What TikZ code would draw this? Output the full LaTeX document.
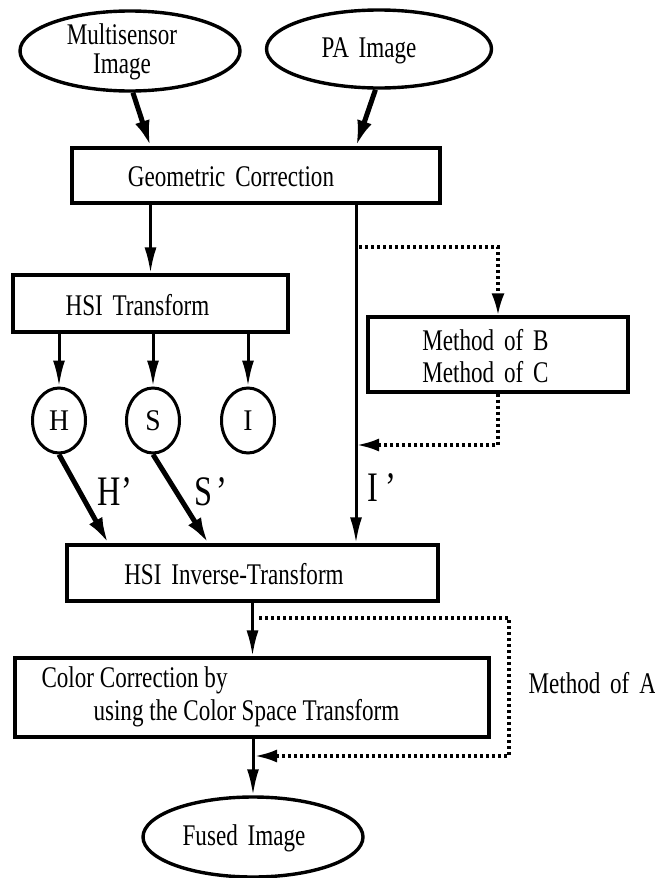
\documentclass[tikz,border=0pt]{standalone}
\usepackage{fontspec}
\setmainfont{Liberation Serif}[FakeStretch=0.77,WordSpace=1.7]
\newfontfamily\plainfont{Liberation Serif}[FakeStretch=0.77]
\newfontfamily\roundfont{Liberation Serif}[FakeStretch=0.92]
\usetikzlibrary{arrows.meta,shapes.geometric,calc}

\tikzset{
	box/.style={draw,line width=3.2pt,inner sep=0pt},
	oval/.style={draw,ellipse,line width=3.4pt,inner sep=0pt,minimum width=220pt,minimum height=80pt},
	letter/.style={draw,ellipse,line width=3pt,inner sep=0pt,minimum width=53pt,minimum height=65pt,font=\roundfont\fontsize{30}{32}\selectfont},
	prime/.style={font=\fontsize{42}{42}\selectfont},
	flow/.style={-{Latex[length=26pt,width=12pt]},line width=3pt},
	heavy/.style={-{Latex[length=26pt,width=15pt]},line width=5pt},
	dots/.style={-{Latex[length=22pt,width=13pt]},line width=3.2pt,dash pattern=on 3pt off 3pt}
}

\begin{document}
\begin{tikzpicture}[x=1pt,y=-1pt,font=\fontsize{30}{30}\selectfont]
	\useasboundingbox (0,0) rectangle (655,878);

	%inputs
	\node[oval] (ms) at (130,51) {};
	\node[align=center,font=\fontsize{30}{29}\selectfont] (mstxt) at (122,52) {Multisensor\\Image};
	\node[oval,minimum width=225pt,minimum height=78pt] (pa) at (379,49) {};
	\node (patxt) at (369,51) {PA Image};

	%geometric correction
	\node[box,minimum width=368pt,minimum height=55pt] (geo) at (256,175.5) {};
	\node (geotxt) at (231,177) {Geometric Correction};
	\draw[heavy] (ms.-86) -- (geo.north -| 150.5,0);
	\coordinate (itop) at (356,203);
	\draw[heavy] (pa.-95) -- (geo.north -| itop);

	%hsi transform
	\node[box,minimum width=275pt,minimum height=57pt] (hsi) at (150.5,303.5) {};
	\node (hsitxt) at (137.5,305) {HSI Transform};
	\draw[flow] (geo.south -| hsi.north) -- (hsi.north);

	%components
	\node[letter] (h) at (59,420.5) {H};
	\node[letter] (s) at (153,420.5) {S};
	\node[letter] (i) at (248,420.5) {I};
	\foreach \c in {h,s,i}
		\draw[flow] (hsi.south -| \c.north) -- (\c.north);

	%method b / c
	\node[box,minimum width=260pt,minimum height=75pt] (meth) at (498,354.5) {};
	\node[align=center,font=\fontsize{30}{32}\selectfont] (methtxt) at (485.5,356) {Method of B\\Method of C};
	\coordinate (bout) at (359,247);
	\coordinate (bin) at (357,445);
	\draw[dots] (bout) -| (meth.north);
	\draw[dots] (meth.south) |- (bin);

	%inverse transform
	\node[box,minimum width=371pt,minimum height=56pt] (inv) at (252.5,573) {};
	\node (invtxt) at (234,574) {HSI Inverse-Transform};
	\draw[heavy] (h.south) -- ($(inv.north west)+(43,0)$);
	\draw[heavy] (s.south) -- ($(inv.north west)+(143,0)$);
	\draw[flow] (itop) -- (inv.north -| itop);
	\node[prime] (hp) at (115,492) {H’};
	\node[prime] (sp) at (211,492) {S\hspace{4pt}’};
	\node[prime] (ip) at (382,488) {I\hspace{7pt}’};

	%color correction
	\node[box,minimum width=474pt,minimum height=79pt] (color) at (252,697.5) {};
	\node[align=left,anchor=west,font=\plainfont\fontsize{30}{33}\selectfont] (colortxt) at (38,697) {Color Correction by\\\hspace*{52pt}using the Color Space Transform};
	\draw[flow] (inv.south) -- (inv.south |- color.north);

	%output
	\node[oval] (fused) at (253,837) {};
	\node (fusedtxt) at (244,838) {Fused Image};
	\draw[flow] (color.south -| fused.north) -- (fused.north);

	%method a
	\coordinate (aout) at (259,618);
	\coordinate (acorner) at (509,756);
	\coordinate (ain) at (255,756);
	\draw[dots] (aout) -| (acorner) -- (ain);
	\node[anchor=west] (methA) at (525,683) {Method of A};
\end{tikzpicture}
\end{document}
